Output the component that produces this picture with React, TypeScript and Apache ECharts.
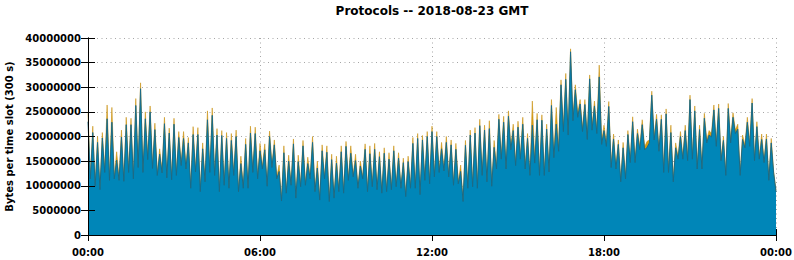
import React, { useEffect, useRef } from "react";
import * as echarts from "echarts";

const titleText = "Protocols -- 2018-08-23 GMT";
const yAxisTitle = "Bytes per time slot (300 s)";
const slotSeconds = 300;

// Top of the stack (all protocols), in millions of bytes per 300 s slot, 00:00 .. 24:00
const totalMB = [
  24.7, 11.8, 22.1, 10.2, 20.0, 9.5, 20.8, 13.2, 26.4, 11.5,
  25.9, 11.8, 16.9, 11.5, 21.3, 11.2, 23.9, 13.2, 23.7, 11.8,
  27.7, 14.2, 30.9, 13.2, 25.0, 15.9, 26.2, 14.0, 22.7, 12.5,
  17.5, 13.0, 23.9, 12.0, 21.7, 11.5, 23.7, 12.5, 21.0, 14.6,
  21.0, 13.9, 19.8, 9.8, 22.0, 13.2, 21.8, 9.1, 18.7, 11.2,
  25.2, 13.2, 25.8, 12.5, 21.6, 9.1, 21.2, 10.5, 20.8, 9.8,
  20.6, 12.5, 21.3, 9.1, 16.0, 9.8, 19.6, 9.8, 22.1, 13.2,
  21.9, 11.8, 18.6, 13.9, 18.5, 10.2, 21.1, 14.2, 19.3, 11.8,
  14.2, 7.2, 18.1, 8.8, 16.2, 10.5, 19.5, 7.8, 16.2, 10.2,
  19.2, 10.5, 15.8, 11.8, 20.0, 9.1, 15.0, 7.4, 18.3, 11.8,
  18.1, 7.1, 16.4, 7.8, 16.0, 9.1, 18.1, 8.8, 19.0, 11.5,
  18.1, 12.2, 16.4, 9.8, 15.0, 11.8, 18.5, 9.1, 18.1, 10.2,
  18.6, 9.5, 16.9, 8.8, 17.7, 9.1, 16.7, 9.5, 18.1, 10.2,
  16.7, 9.8, 15.6, 8.1, 16.0, 9.8, 19.8, 9.8, 20.6, 8.5,
  20.2, 11.5, 21.0, 10.8, 22.1, 12.2, 21.0, 13.2, 18.8, 13.5,
  20.0, 12.2, 19.3, 10.5, 18.6, 10.8, 14.2, 7.1, 19.2, 9.8,
  21.3, 10.2, 21.8, 9.8, 23.5, 12.5, 22.3, 11.2, 23.2, 10.2,
  19.2, 13.9, 24.5, 15.9, 24.1, 13.9, 25.2, 17.9, 22.5, 14.6,
  23.1, 15.9, 23.9, 13.9, 20.6, 12.5, 27.2, 15.2, 24.7, 12.5,
  24.4, 12.5, 22.5, 13.2, 27.5, 16.2, 25.9, 17.6, 31.5, 21.7,
  32.8, 21.0, 37.8, 24.0, 30.5, 24.7, 27.5, 21.7, 27.5, 20.0,
  32.5, 22.0, 27.2, 21.3, 34.5, 19.0, 22.3, 18.6, 27.1, 14.2,
  20.5, 13.9, 19.3, 11.2, 18.8, 11.8, 21.2, 15.2, 24.0, 15.2,
  21.5, 17.9, 23.4, 17.9, 19.0, 19.3, 29.2, 20.0, 24.5, 17.6,
  24.4, 13.2, 25.6, 13.2, 22.3, 11.2, 18.7, 15.9, 21.0, 15.9,
  22.3, 15.6, 28.4, 15.9, 26.2, 13.9, 22.3, 13.9, 24.7, 19.3,
  21.2, 20.6, 26.4, 18.6, 26.6, 15.6, 20.0, 12.5, 26.7, 19.3,
  24.8, 21.3, 22.5, 12.5, 20.3, 18.3, 23.9, 18.6, 27.7, 15.6,
  23.0, 15.9, 20.5, 15.2, 20.5, 11.5, 19.6, 13.0, 9.1,
];

// Orange (upper) protocol layer, in millions of bytes per slot
const orangeMB = [
  1.7, 0.4, 1.3, 0.3, 1.2, 0.3, 1.1, 0.5, 2.8, 0.4,
  3.0, 0.4, 1.7, 0.4, 1.4, 0.3, 1.5, 0.5, 1.3, 0.4,
  1.4, 0.5, 1.2, 0.5, 1.4, 0.6, 1.2, 0.5, 1.3, 0.4,
  1.1, 0.4, 1.3, 0.4, 1.0, 0.3, 1.2, 0.4, 1.2, 0.5,
  1.4, 0.5, 1.1, 0.3, 1.6, 0.4, 1.4, 0.3, 1.2, 0.4,
  1.8, 0.5, 1.5, 0.4, 1.3, 0.3, 1.0, 0.4, 1.2, 0.3,
  1.4, 0.4, 1.3, 0.3, 1.5, 0.3, 1.2, 0.3, 1.4, 0.5,
  1.3, 0.4, 1.5, 0.5, 1.2, 0.3, 1.1, 0.5, 1.0, 0.4,
  1.3, 0.3, 1.4, 0.3, 1.2, 0.4, 1.0, 0.3, 1.3, 0.4,
  1.1, 0.4, 1.3, 0.4, 1.2, 0.3, 1.4, 0.3, 1.2, 0.4,
  1.3, 0.3, 1.1, 0.3, 1.4, 0.3, 1.2, 0.3, 1.0, 0.4,
  1.5, 0.4, 1.3, 0.3, 1.0, 0.4, 1.1, 0.3, 1.6, 0.4,
  1.2, 0.3, 1.0, 0.3, 1.1, 0.3, 1.3, 0.3, 1.0, 0.4,
  1.1, 0.3, 0.9, 0.3, 1.1, 0.3, 1.2, 0.3, 1.0, 0.3,
  0.9, 0.4, 1.0, 0.4, 1.1, 0.4, 1.0, 0.5, 1.3, 0.5,
  1.2, 0.4, 1.0, 0.4, 1.2, 0.4, 1.3, 0.3, 1.0, 0.3,
  1.0, 0.4, 1.1, 0.3, 1.3, 0.4, 1.0, 0.4, 1.6, 0.3,
  1.4, 0.5, 1.0, 0.5, 1.2, 0.5, 1.1, 0.6, 1.3, 0.5,
  1.2, 0.5, 1.4, 0.5, 1.0, 0.4, 4.9, 0.6, 1.3, 0.4,
  1.1, 0.4, 1.0, 0.4, 1.2, 0.5, 3.4, 0.6, 1.0, 0.7,
  1.2, 0.7, 0.6, 0.8, 1.0, 0.8, 0.9, 0.7, 1.0, 0.6,
  0.8, 0.7, 1.0, 0.7, 2.4, 0.6, 1.1, 0.6, 1.0, 0.5,
  1.0, 0.5, 0.9, 0.4, 1.1, 0.4, 0.8, 0.5, 1.0, 0.5,
  0.9, 0.6, 1.0, 0.6, 1.2, 0.6, 0.8, 0.7, 1.0, 0.6,
  0.9, 0.5, 1.0, 0.5, 1.5, 0.4, 1.0, 0.5, 1.0, 0.5,
  1.1, 0.5, 0.9, 0.5, 1.0, 0.5, 0.9, 0.5, 1.0, 0.6,
  0.9, 0.7, 1.0, 0.6, 0.9, 0.5, 0.8, 0.4, 1.0, 0.6,
  0.9, 0.7, 1.0, 0.4, 0.9, 0.6, 1.0, 0.6, 0.9, 0.5,
  1.0, 0.5, 1.1, 0.5, 1.0, 0.4, 0.9, 0.4, 0.3,
];

const FONT = "'DejaVu Sans', Verdana, sans-serif";
const BLUE = "#0086b8";
const BLUE_EDGE = "#1c6a86";
const ORANGE = "#d99c12";
const GRID_COLOR = "#a6a6a6";

const pad2 = (n: number) => (n < 10 ? "0" + n : String(n));
const fmtTime = (v: number) => pad2(Math.floor(v / 3600) % 24) + ":" + pad2(Math.floor((v % 3600) / 60));

export default function App() {
  const ref = useRef<HTMLDivElement>(null);
  useEffect(() => {
    if (!ref.current) return;
    const chart = echarts.init(ref.current, undefined, { renderer: "svg" });
    // the stack is drawn as two overlapping areas: the whole stack in orange behind,
    // the lower (blue) layer in front of it
    const stackTopData = totalMB.map((t, i) => [i * slotSeconds, Math.round(t * 1e6)]);
    const blueData = totalMB.map((t, i) => [i * slotSeconds, Math.round((t - orangeMB[i]) * 1e6)]);
    const xBase = { type: "value", min: 0, max: 86400, interval: 21600, gridIndex: 0 };
    const yBase = { type: "value", min: 0, max: 40000000, interval: 5000000, gridIndex: 0 };
    const blackLine = { show: true, lineStyle: { color: "#000", width: 1 } };
    const dotted = { show: true, lineStyle: { color: GRID_COLOR, width: 1, type: [1, 3.5] } };
    chart.setOption({
      animation: false,
      backgroundColor: "#fff",
      textStyle: { fontFamily: FONT },
      grid: { left: 88, top: 38, width: 688, height: 197, containLabel: false, outerBoundsMode: "none" },
      graphic: [
        {
          type: "text",
          x: 432,
          y: 11,
          style: {
            text: titleText,
            font: "bold 12px " + FONT,
            fill: "#000",
            textAlign: "center",
            textVerticalAlign: "middle",
          },
        },
      ],
      xAxis: [
        {
          ...xBase,
          position: "bottom",
          z: 1,
          axisLine: { show: false },
          axisTick: { show: true, inside: true, length: 6, lineStyle: { color: "#000" } },
          axisLabel: {
            show: true,
            margin: 12,
            color: "#000",
            fontWeight: "bold",
            fontSize: 10,
            fontFamily: FONT,
            formatter: (v: number) => fmtTime(v),
          },
          splitLine: dotted,
        },
        {
          ...xBase,
          position: "top",
          z: 10,
          axisLine: blackLine,
          axisTick: { show: true, inside: true, length: 6, lineStyle: { color: "#000" } },
          axisLabel: { show: false },
          splitLine: { show: false },
        },
        {
          ...xBase,
          position: "bottom",
          z: 10,
          axisLine: blackLine,
          axisTick: { show: false },
          axisLabel: { show: false },
          splitLine: { show: false },
        },
      ],
      yAxis: [
        {
          ...yBase,
          position: "left",
          z: 10,
          axisLine: blackLine,
          axisTick: { show: true, inside: true, length: 7, lineStyle: { color: "#000" } },
          axisLabel: {
            show: true,
            margin: 7,
            color: "#000",
            fontWeight: "bold",
            fontSize: 10,
            fontFamily: FONT,
            formatter: (v: number) => String(v),
          },
          splitLine: { show: false },
          name: yAxisTitle,
          nameLocation: "middle",
          nameRotate: 90,
          nameGap: 72,
          nameTextStyle: { color: "#000", fontWeight: "bold", fontSize: 10, fontFamily: FONT },
        },
        {
          ...yBase,
          position: "right",
          z: 10,
          axisLine: blackLine,
          axisTick: { show: true, inside: true, length: 7, lineStyle: { color: "#000" } },
          axisLabel: { show: false },
          splitLine: { show: false },
        },
        {
          ...yBase,
          position: "left",
          z: 1,
          axisLine: { show: false },
          axisTick: { show: false },
          axisLabel: { show: false },
          splitLine: dotted,
        },
      ],
      series: [
        {
          name: "Orange",
          type: "line",
          xAxisIndex: 0,
          yAxisIndex: 0,
          data: stackTopData,
          symbol: "none",
          lineStyle: { color: "#c99214", width: 0.6 },
          areaStyle: { color: ORANGE, opacity: 1 },
          z: 2,
        },
        {
          name: "Blue",
          type: "line",
          xAxisIndex: 0,
          yAxisIndex: 0,
          data: blueData,
          symbol: "none",
          lineStyle: { color: BLUE_EDGE, width: 1 },
          areaStyle: { color: BLUE, opacity: 1 },
          z: 3,
        },
      ],
    });
    return () => chart.dispose();
  }, []);
  return (
    <div
      ref={ref}
      style={{ position: "fixed", left: 0, top: 0, width: 794, height: 260, background: "#fff" }}
    />
  );
}
